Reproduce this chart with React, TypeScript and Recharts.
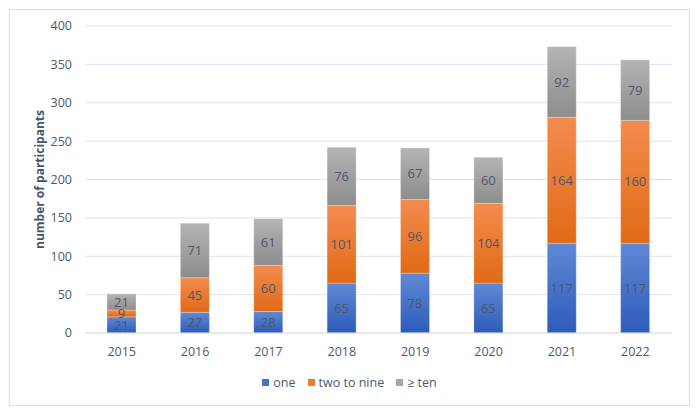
import { BarChart, Bar, XAxis, YAxis, CartesianGrid, Legend, LabelList } from 'recharts'

const YEARS = ['2015', '2016', '2017', '2018', '2019', '2020', '2021', '2022']
const ONE = [21, 27, 28, 65, 78, 65, 117, 117]
const TWO_TO_NINE = [9, 45, 60, 101, 96, 104, 164, 160]
const TEN_PLUS = [21, 71, 61, 76, 67, 60, 92, 79]
const Y_TICKS = [0, 50, 100, 150, 200, 250, 300, 350, 400]

const SERIES = [
  { key: 'one', name: 'one', color: '#4472C4', grad: 'gBlue' },
  { key: 'two', name: 'two to nine', color: '#ED7D31', grad: 'gOrange' },
  { key: 'ten', name: '≥ ten', color: '#A5A5A5', grad: 'gGray' },
]

const FONT = '"Open Sans", sans-serif'
const TEXT = '#4E5869'

const data = YEARS.map((y, i) => ({
  year: y,
  one: ONE[i],
  two: TWO_TO_NINE[i],
  ten: TEN_PLUS[i],
}))

function LegendBox() {
  return (
    <div style={{ display: 'flex', justifyContent: 'center', gap: 12, fontFamily: FONT, fontSize: 12.5, color: TEXT }}>
      {SERIES.map(s => (
        <div key={s.key} style={{ display: 'flex', alignItems: 'center' }}>
          <span style={{ width: 7, height: 7, background: s.color, marginRight: 4, display: 'inline-block' }} />
          {s.name}
        </div>
      ))}
    </div>
  )
}

export default function App() {
  return (
    <div style={{ position: 'absolute', left: 0, top: 0, width: 699, height: 415, background: '#fff' }}>
      <div style={{ position: 'absolute', left: 9, top: 9, width: 679, height: 395, border: '1px solid #D9DEE5' }} />
      <div style={{ position: 'absolute', left: 0, top: 0 }}>
        <BarChart
          width={699}
          height={415}
          data={data}
          margin={{ top: 26, right: 27, left: 35, bottom: 35 }}
          barSize={29}
        >
          <defs>
            <linearGradient id="gBlue" x1="0" y1="0" x2="0" y2="1">
              <stop offset="0%" stopColor="#6089D5" />
              <stop offset="100%" stopColor="#2D5BB9" />
            </linearGradient>
            <linearGradient id="gOrange" x1="0" y1="0" x2="0" y2="1">
              <stop offset="0%" stopColor="#F38C4E" />
              <stop offset="100%" stopColor="#E06A16" />
            </linearGradient>
            <linearGradient id="gGray" x1="0" y1="0" x2="0" y2="1">
              <stop offset="0%" stopColor="#B4B4B4" />
              <stop offset="100%" stopColor="#8D8D8D" />
            </linearGradient>
          </defs>
          <CartesianGrid vertical={false} stroke="#DDE2E9" />
          <XAxis
            dataKey="year"
            axisLine={{ stroke: '#DDE2E9' }}
            tickLine={false}
            tickMargin={8}
            height={30}
            tick={{ fill: TEXT, fontSize: 12.5, fontFamily: FONT }}
          />
          <YAxis
            domain={[0, 400]}
            ticks={Y_TICKS}
            axisLine={false}
            tickLine={false}
            tickMargin={7}
            width={50}
            tick={{ fill: TEXT, fontSize: 12.5, fontFamily: FONT }}
            label={{
              value: 'number of participants',
              angle: -90,
              position: 'insideLeft',
              offset: 5,
              style: { textAnchor: 'middle', fill: '#44546A', fontSize: 12, fontWeight: 'bold', fontFamily: FONT },
            }}
          />
          <Legend verticalAlign="bottom" content={() => <LegendBox />} wrapperStyle={{ left: 0, width: 699, top: 374 }} />
          {SERIES.map(s => (
            <Bar key={s.key} dataKey={s.key} name={s.name} stackId="a" fill={`url(#${s.grad})`} stroke="#ffffff" strokeOpacity={0.5} strokeWidth={0.5} isAnimationActive={false}>
              <LabelList dataKey={s.key} position="center" fill={TEXT} fontSize={13} fontFamily={FONT} />
            </Bar>
          ))}
        </BarChart>
      </div>
    </div>
  )
}
